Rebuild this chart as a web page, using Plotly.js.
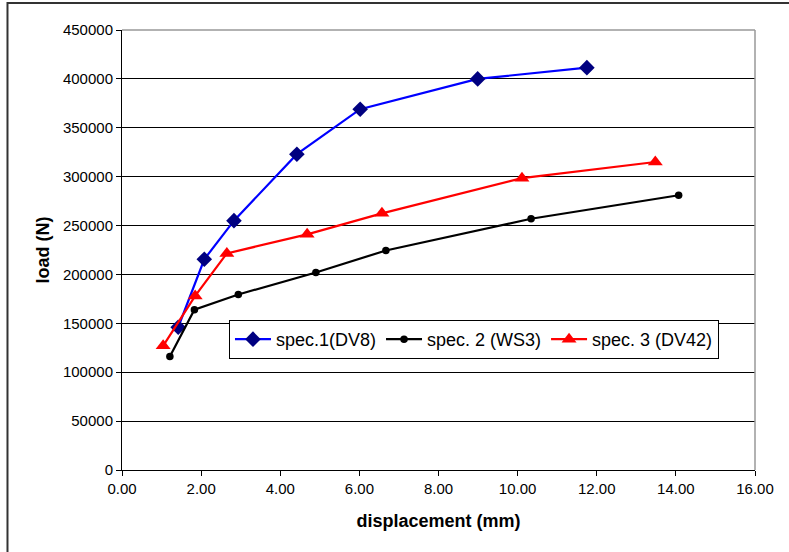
<!DOCTYPE html>
<html>
<head>
<meta charset="utf-8">
<script src="https://cdn.plot.ly/plotly-3.0.1.min.js"></script>
<style>html,body{margin:0;padding:0;background:#fff;}#chart{width:789px;height:552px;}</style>
</head>
<body>
<div id="chart"></div>
<script>
// Data
const spec1Name = "spec.1(DV8)";
const spec1X = [1.42, 2.08, 2.83, 4.42, 6.02, 8.99, 11.75];
const spec1Y = [146000, 215500, 255000, 323000, 369000, 400000, 411500];

const spec2Name = "spec. 2 (WS3)";
const spec2X = [1.21, 1.83, 2.94, 4.90, 6.67, 10.34, 14.07];
const spec2Y = [116000, 164000, 179500, 202000, 224500, 257000, 281000];

const spec3Name = "spec. 3 (DV42)";
const spec3X = [1.04, 1.85, 2.65, 4.68, 6.57, 10.11, 13.48];
const spec3Y = [127000, 178000, 221500, 241000, 262500, 298500, 315000];

const xTickVals = [0, 2, 4, 6, 8, 10, 12, 14, 16];
const yTickVals = [0, 50000, 100000, 150000, 200000, 250000, 300000, 350000, 400000, 450000];

const xTitle = "displacement (mm)";
const yTitle = "load (N)";

const FONT = "Liberation Sans, Arial, sans-serif";

const traces = [
  {x: spec1X, y: spec1Y, name: spec1Name, mode: "lines+markers", type: "scatter",
   line: {color: "#0000FF", width: 2.2},
   marker: {symbol: "diamond", size: 12, color: "#000080"}},
  {x: spec2X, y: spec2Y, name: spec2Name, mode: "lines+markers", type: "scatter",
   line: {color: "#000000", width: 2.2},
   marker: {symbol: "circle", size: 7.5, color: "#000000"}},
  {x: spec3X, y: spec3Y, name: spec3Name, mode: "lines+markers", type: "scatter",
   line: {color: "#FF0000", width: 2.2},
   marker: {symbol: "triangle-up", size: 13, color: "#FF0000"}}
];

const layout = {
  width: 789, height: 552,
  margin: {l: 122, r: 34, t: 30, b: 82},
  paper_bgcolor: "#fff", plot_bgcolor: "#fff",
  font: {family: FONT, size: 15, color: "#000"},
  showlegend: true,
  legend: {
    orientation: "h", x: 0.169, y: 0.341, xanchor: "left", yanchor: "top",
    bgcolor: "#fff", bordercolor: "#000", borderwidth: 1,
    font: {family: FONT, size: 18, color: "#000"},
    itemwidth: 36, tracegroupgap: 0, itemclick: false
  },
  xaxis: {
    range: [0, 16], tickvals: xTickVals, ticktext: xTickVals.map(v => v.toFixed(2)),
    showgrid: false, zeroline: false,
    showline: true, linecolor: "#000", linewidth: 1,
    ticks: "outside", ticklen: 5, tickcolor: "#000",
    tickfont: {family: FONT, size: 15, color: "#000"},
    title: {text: xTitle, font: {family: FONT, size: 18, color: "#000", weight: "bold"}, standoff: 18}
  },
  yaxis: {
    range: [0, 450000], tickvals: yTickVals, ticktext: yTickVals.map(v => String(v)),
    showgrid: true, gridcolor: "#000", gridwidth: 1, zeroline: false,
    showline: true, linecolor: "#000", linewidth: 1,
    ticks: "outside", ticklen: 5, tickcolor: "#000",
    tickfont: {family: FONT, size: 15, color: "#000"},
    title: {text: yTitle, font: {family: FONT, size: 18, color: "#000", weight: "bold"}, standoff: 8}
  },
  shapes: [
    {type: "line", xref: "paper", yref: "paper", x0: 0, x1: 1, y0: 1, y1: 1,
     line: {color: "#999", width: 1.5}, layer: "above"},
    {type: "line", xref: "paper", yref: "paper", x0: 1, x1: 1, y0: 0, y1: 1,
     line: {color: "#999", width: 1.5}, layer: "above"},
    {type: "rect", xref: "paper", yref: "paper", x0: -0.1809, x1: 1.07, y0: 1.0614, y1: -0.21,
     line: {color: "#333", width: 2}, fillcolor: "rgba(0,0,0,0)", layer: "above"}
  ]
};

Plotly.newPlot("chart", traces, layout, {staticPlot: true, displayModeBar: false});
</script>
</body>
</html>
